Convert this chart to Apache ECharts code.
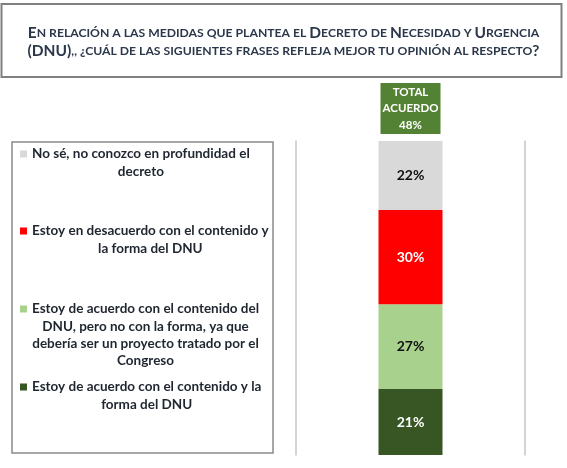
<!DOCTYPE html>
<html>
<head>
<meta charset="utf-8">
<script src="https://cdn.jsdelivr.net/npm/echarts@6/dist/echarts.min.js"></script>
<style>
  html, body { margin: 0; padding: 0; background: #fff; }
  #main { width: 567px; height: 468px; }
</style>
</head>
<body>
<div id="main"></div>
<script>
// data
const categories = ['DNU'];
const noSe = [22];
const desacuerdo = [30];
const acuerdoContenido = [27];
const acuerdoTotal = [21];
const totalAcuerdo = [48];

const nameNoSe = 'No sé, no conozco en profundidad el decreto';
const nameDesacuerdo = 'Estoy en desacuerdo con el contenido y la forma del DNU';
const nameContenido = 'Estoy de acuerdo con el contenido del DNU, pero no con la forma, ya que debería ser un proyecto tratado por el Congreso';
const nameTotal = 'Estoy de acuerdo con el contenido y la forma del DNU';

// line breaks as in the legend box
const legendLines = {};
legendLines[nameNoSe] = ['No sé, no conozco en profundidad el', 'decreto'];
legendLines[nameDesacuerdo] = ['Estoy en desacuerdo con el contenido y', 'la forma del DNU'];
legendLines[nameContenido] = ['Estoy de acuerdo con el contenido del', 'DNU, pero no con la forma, ya que', 'debería ser un proyecto tratado por el', 'Congreso'];
legendLines[nameTotal] = ['Estoy de acuerdo con el contenido y la', 'forma del DNU'];

const colors = {
  noSe: '#d9d9d9',
  desacuerdo: '#ff0000',
  contenido: '#a9d18e',
  total: '#375623'
};

const stackTop = noSe[0] + desacuerdo[0] + acuerdoContenido[0] + acuerdoTotal[0];

const myChart = echarts.init(document.getElementById('main'));

function legendFor(name, color, top) {
  return {
    data: [name],
    top: top,
    left: 15,
    orient: 'vertical',
    icon: 'none',
    itemWidth: 0,
    itemHeight: 0,
    padding: 0,
    selectedMode: false,
    formatter(n) {
      return legendLines[n].map((l, i) =>
        (i === 0 ? '{m|}{g|}' : '{s|}') + '{t|' + l + '}'
      ).join('\n');
    },
    textStyle: {
      rich: {
        m: { width: 7, height: 7, backgroundColor: color },
        g: { width: 5 },
        s: { width: 12 },
        t: {
          align: 'center',
          fontFamily: 'Lato',
          fontWeight: 'bold',
          fontSize: 13.5,
          lineHeight: 17.3,
          color: '#1f2630'
        }
      }
    }
  };
}

function segLabel(color) {
  return {
    show: true,
    position: 'inside',
    formatter: '{c}%',
    fontFamily: 'Lato',
    fontWeight: 'bold',
    fontSize: 14,
    color: color
  };
}

const option = {
  animation: false,
  title: {
    left: 'center',
    top: 24,
    padding: 0,
    text: '{B|E}{S|N RELACIÓN A LAS MEDIDAS QUE PLANTEA EL }{B|D}{S|ECRETO DE }{B|N}{S|ECESIDAD Y }{B|U}{S|RGENCIA}\n' +
          '{B|(DNU)}{S|,, ¿CUÁL DE LAS SIGUIENTES FRASES REFLEJA MEJOR TU OPINIÓN AL RESPECTO}{B|?}',
    textStyle: {
      rich: {
        B: { fontFamily: 'Lato', fontWeight: 'bold', fontSize: 15.5, lineHeight: 18, color: '#2b384b', align: 'center' },
        S: { fontFamily: 'Lato', fontWeight: 'bold', fontSize: 12.2, lineHeight: 18, color: '#2b384b', align: 'center' }
      }
    }
  },
  graphic: [
    {
      type: 'rect',
      shape: { x: 1.5, y: 4, width: 560, height: 73 },
      style: { fill: 'none', stroke: '#808080', lineWidth: 2 }
    },
    {
      type: 'rect',
      shape: { x: 12, y: 142, width: 261, height: 311 },
      style: { fill: 'none', stroke: '#8a8a8a', lineWidth: 1.5 }
    }
  ],
  legend: [
    legendFor(nameNoSe, colors.noSe, 147),
    legendFor(nameDesacuerdo, colors.desacuerdo, 224),
    legendFor(nameContenido, colors.contenido, 302),
    legendFor(nameTotal, colors.total, 380)
  ],
  grid: {
    left: 296,
    right: 42,
    top: 141,
    bottom: 13
  },
  xAxis: {
    type: 'category',
    data: categories,
    axisLine: { show: false },
    axisTick: { show: false },
    axisLabel: { show: false },
    splitLine: { show: false }
  },
  yAxis: [
    {
      type: 'value',
      min: 0,
      max: 100,
      position: 'left',
      axisLine: { show: true, lineStyle: { color: '#c6c6c6', width: 1.5 } },
      axisTick: { show: false },
      axisLabel: { show: false },
      splitLine: { show: false }
    },
    {
      type: 'value',
      min: 0,
      max: 100,
      position: 'right',
      axisLine: { show: true, lineStyle: { color: '#c6c6c6', width: 1.5 } },
      axisTick: { show: false },
      axisLabel: { show: false },
      splitLine: { show: false }
    }
  ],
  series: [
    {
      name: nameTotal,
      type: 'bar',
      stack: 'all',
      barWidth: 64,
      data: acuerdoTotal,
      itemStyle: { color: colors.total },
      label: segLabel('#ffffff')
    },
    {
      name: nameContenido,
      type: 'bar',
      stack: 'all',
      barWidth: 64,
      data: acuerdoContenido,
      itemStyle: { color: colors.contenido },
      label: segLabel('#111111')
    },
    {
      name: nameDesacuerdo,
      type: 'bar',
      stack: 'all',
      barWidth: 64,
      data: desacuerdo,
      itemStyle: { color: colors.desacuerdo },
      label: segLabel('#ffffff')
    },
    {
      name: nameNoSe,
      type: 'bar',
      stack: 'all',
      barWidth: 64,
      data: noSe,
      itemStyle: { color: colors.noSe },
      label: segLabel('#111111'),
      markPoint: {
        silent: true,
        symbol: 'rect',
        symbolSize: [60, 51],
        symbolOffset: [0, -32.5],
        itemStyle: { color: '#548235' },
        label: {
          show: true,
          position: 'inside',
          color: '#ffffff',
          fontFamily: 'Lato',
          fontWeight: 'bold',
          fontSize: 11.5,
          lineHeight: 16.5,
          formatter: () => 'TOTAL\nACUERDO\n' + totalAcuerdo[0] + '%'
        },
        data: [{ coord: [categories[0], stackTop] }]
      }
    }
  ]
};

myChart.setOption(option);
</script>
</body>
</html>
